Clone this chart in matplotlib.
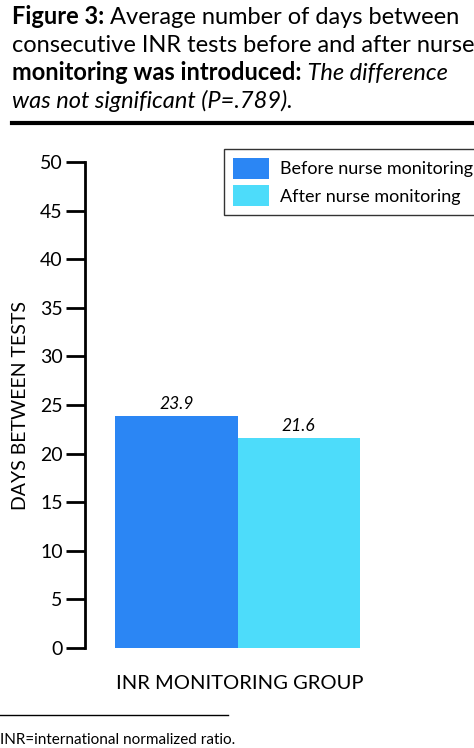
import matplotlib
matplotlib.use("Agg")
import matplotlib.pyplot as plt

categories = ["Before nurse monitoring", "After nurse monitoring"]
values = [23.9, 21.6]
colors = ["#2b86f4", "#4ddcfa"]
yticks = [0, 5, 10, 15, 20, 25, 30, 35, 40, 45, 50]

plt.rcParams['font.family'] = ['Lato', 'DejaVu Sans']
fig = plt.figure(figsize=(4.74, 7.48), dpi=100)
ax = fig.add_axes([85/474, 1-648/748, (464-85)/474, (648-162)/748])
bars = ax.bar([0, 1], values, width=1.0, color=colors, label=categories)
for b, v in zip(bars, values):
    ax.text(b.get_x()+b.get_width()/2, v+0.4, f"{v}", ha='center', va='bottom',
            fontsize=12.5, style='italic')
ax.set_xlim(-0.746, 2.35)
ax.set_ylim(0, 50)
ax.set_yticks(yticks)
ax.tick_params(axis='y', direction='out', length=14, width=2, labelsize=14, pad=2)
ax.set_xticks([])
for s in ['top', 'right', 'bottom']:
    ax.spines[s].set_visible(False)
ax.spines['left'].set_linewidth(2)
ax.set_ylabel("DAYS BETWEEN TESTS", fontsize=14, labelpad=8)
ax.set_xlabel("INR MONITORING GROUP", fontsize=14.5, labelpad=18)
ax.xaxis.set_label_coords((240-85)/(464-85), -0.055)
leg = ax.legend(loc='upper left', bbox_to_anchor=((215-85)/379, 1+22/486, (468-215)/379, 0),
                fontsize=13, frameon=True, fancybox=False, edgecolor='black',
                handlelength=2.0, handleheight=1.4, borderpad=0.5, labelspacing=0.35,
                handletextpad=0.6)
leg.get_frame().set_linewidth(1)

fs = 17
lines = [
    [("Figure 3:", dict(weight='bold')), (" Average number of days between", {})],
    [("consecutive INR tests before and after nurse", {})],
    [("monitoring was introduced:", dict(weight='bold')), (" The difference", dict(style='italic'))],
    [("was not significant (P=.789).", dict(style='italic'))],
]
y0 = 1 - 24/748
for i, segs in enumerate(lines):
    y = y0 - i*28/748
    prev = None
    for txt, kw in segs:
        if prev is None:
            prev = fig.text(12/474, y, txt, fontsize=fs, va='baseline', **kw)
        else:
            prev = ax.annotate(txt, xy=(1, 0), xycoords=prev, va='bottom', ha='left',
                               fontsize=fs, annotation_clip=False, **kw)
fig.add_artist(plt.Line2D([12/474, 1], [1-123/748]*2, color='black', lw=3))
fig.add_artist(plt.Line2D([0, 228/474], [1-715/748]*2, color='black', lw=1))
fig.text(0, 1-744/748, "INR=international normalized ratio.", fontsize=11)
fig.savefig("out.png", dpi=100)
